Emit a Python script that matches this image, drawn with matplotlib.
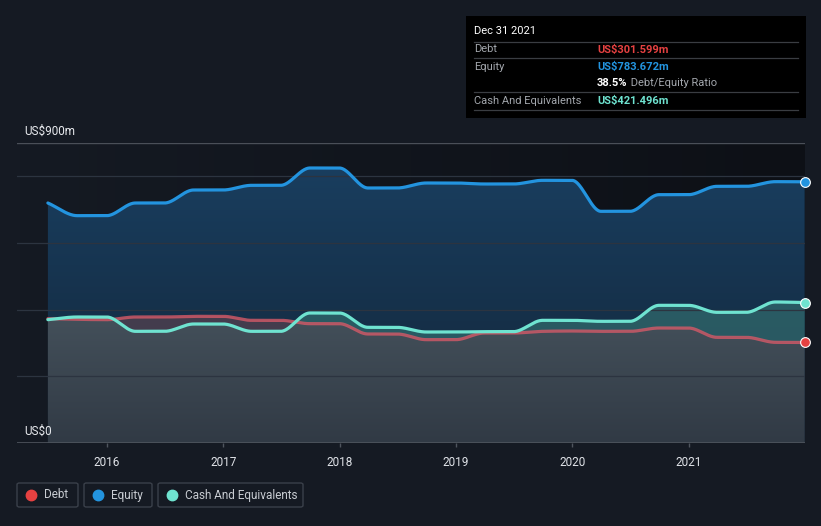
import numpy as np
import pandas as pd
import matplotlib
matplotlib.use('Agg')
import matplotlib.pyplot as plt
from matplotlib.patches import PathPatch, FancyBboxPatch
from matplotlib.colors import LinearSegmentedColormap

plt.rcParams['font.family'] = ['Roboto', 'DejaVu Sans']

# quarterly balance sheet values, US$m
dates = ['2015-06-30', '2015-09-30', '2015-12-31', '2016-03-31', '2016-06-30', '2016-09-30',
         '2016-12-31', '2017-03-31', '2017-06-30', '2017-09-30', '2017-12-31', '2018-03-31',
         '2018-06-30', '2018-09-30', '2018-12-31', '2019-03-31', '2019-06-30', '2019-09-30',
         '2019-12-31', '2020-03-31', '2020-06-30', '2020-09-30', '2020-12-31', '2021-03-31',
         '2021-06-30', '2021-09-30', '2021-12-31']
equity = [720, 682, 682, 720, 720, 759, 759, 773, 773, 825, 825, 765, 765, 780, 780, 777, 777,
          788, 788, 695, 695, 745, 745, 770, 770, 784, 783.672]
debt = [373, 371, 370, 378, 378, 380, 380, 368, 368, 358, 358, 327, 327, 310, 310, 330, 330,
        335, 336, 335, 335, 345, 345, 317, 317, 302, 301.599]
cash = [370, 378, 378, 335, 335, 357, 357, 335, 335, 390, 390, 347, 347, 333, 333, 334, 334,
        368, 368, 365, 365, 413, 413, 392, 392, 423, 421.496]
years = [2016, 2017, 2018, 2019, 2020, 2021]

BG = '#151a23'
C_DEBT = '#e64141'
C_EQ = '#2394df'
C_CASH = '#6fe3d0'


def decyear(s):
    d = pd.Timestamp(s)
    start = pd.Timestamp(year=d.year, month=1, day=1)
    end = pd.Timestamp(year=d.year + 1, month=1, day=1)
    return d.year + (d - start) / (end - start)


def monotone(x, y, xs):
    # Fritsch-Carlson monotone cubic
    x = np.asarray(x, float)
    y = np.asarray(y, float)
    h = np.diff(x)
    d = np.diff(y) / h
    m = np.zeros_like(y)
    m[0], m[-1] = d[0], d[-1]
    for i in range(1, len(y) - 1):
        if d[i - 1] * d[i] <= 0:
            m[i] = 0
        else:
            w1 = 2 * h[i] + h[i - 1]
            w2 = h[i] + 2 * h[i - 1]
            m[i] = (w1 + w2) / (w1 / d[i - 1] + w2 / d[i])
    idx = np.clip(np.searchsorted(x, xs) - 1, 0, len(x) - 2)
    t = (xs - x[idx]) / h[idx]
    h00 = 2 * t**3 - 3 * t**2 + 1
    h10 = t**3 - 2 * t**2 + t
    h01 = -2 * t**3 + 3 * t**2
    h11 = t**3 - t**2
    return h00 * y[idx] + h10 * h[idx] * m[idx] + h01 * y[idx + 1] + h11 * h[idx] * m[idx + 1]


xq = np.array([decyear(s) for s in dates])
xs = np.linspace(xq[0], xq[-1], 1500)
eq_s = monotone(xq, equity, xs)
de_s = monotone(xq, debt, xs)
ca_s = monotone(xq, cash, xs)

fig = plt.figure(figsize=(8.21, 5.26), dpi=100)
fig.patch.set_facecolor(BG)
W, H = 821, 526
x0, x1 = 2016 - 89.9 / 116.4, 2022.0
ax = fig.add_axes([17 / W, (H - 443) / H, 788 / W, 300 / H])
ax.set_xlim(x0, x1)
ax.set_ylim(0, 900)
ax.set_facecolor(BG)
for s in ax.spines.values():
    s.set_visible(False)

# background darkening to the right
bgmap = LinearSegmentedColormap.from_list('bg', [BG, '#0d1016'])
ax.imshow(np.linspace(0, 1, 256).reshape(1, -1), extent=[x0, x1, 0, 900], aspect='auto',
          cmap=bgmap, zorder=0, origin='lower')


def grad_fill(lower, upper, c_bottom, c_top, z, where=None):
    poly = ax.fill_between(xs, lower, upper, where=where, color='none', lw=0, interpolate=True)
    cmap = LinearSegmentedColormap.from_list('g', [c_bottom, c_top])
    im = ax.imshow(np.linspace(0, 1, 256).reshape(-1, 1), extent=[x0, x1, 0, 900], aspect='auto',
                   cmap=cmap, origin='lower', zorder=z)
    paths = poly.get_paths()
    if len(paths) == 0:
        im.remove()
        return
    verts = np.concatenate([p.vertices for p in paths])
    codes = np.concatenate([p.codes if p.codes is not None else
                            np.r_[1, np.full(len(p.vertices) - 1, 2)] for p in paths])
    from matplotlib.path import Path
    patch = PathPatch(Path(verts, codes), transform=ax.transData, facecolor='none', edgecolor='none')
    ax.add_patch(patch)
    im.set_clip_path(patch)


lowest = np.minimum(de_s, ca_s)
grad_fill(0, eq_s, '#122538', '#1a4062', 1)
grad_fill(de_s, ca_s, '#28555e', '#2b626a', 2, where=ca_s >= de_s)
grad_fill(ca_s, de_s, '#3f3a4a', '#4a4152', 2, where=de_s >= ca_s)
grad_fill(0, lowest, '#313a45', '#5d6e77', 3)

# grid
for v in [200, 400, 600, 800]:
    ax.axhline(v, color='#2c3440', lw=0.9, zorder=4)
ax.axhline(900, color='#4a4f58', lw=1, zorder=4)
ax.axhline(0, color='#4f555e', lw=1.2, zorder=4)

ax.plot(xs, eq_s, color=C_EQ, lw=2.3, zorder=6, solid_capstyle='round')
ax.plot(xs, de_s, color='#d65a68', lw=2.3, alpha=0.8, zorder=5, solid_capstyle='round')
ax.plot(xs, ca_s, color=C_CASH, lw=2.3, zorder=7, solid_capstyle='round')
for vals, c in [(equity, C_EQ), (debt, C_DEBT), (cash, C_CASH)]:
    ax.plot(xq[-1], vals[-1], 'o', ms=7, color=c, mec='white', mew=0.8, zorder=9, clip_on=False)

ax.set_yticks([])
ax.set_xticks(years)
ax.set_xticklabels([str(y) for y in years])
ax.tick_params(axis='x', colors='#4f555e', length=3, width=1, pad=6, labelcolor='#e0e3e8',
               labelsize=8.5)

fig.text(24 / W, 1 - 131 / H, 'US$900m', color='#e8eaee', fontsize=8.5, va='center')
fig.text(24 / W, 1 - 431 / H, 'US$0', color='#e8eaee', fontsize=8.5, va='center')

# tooltip box
tip = fig.add_axes([466 / W, 1 - 118 / H, 340 / W, 102 / H])
tip.set_xlim(466, 806)
tip.set_ylim(118, 16)
tip.set_facecolor('#000000')
tip.set_xticks([])
tip.set_yticks([])
for s in tip.spines.values():
    s.set_visible(False)
for yy in [41.5, 58.3, 92.3, 109.5]:
    tip.plot([474, 798], [yy, yy], color='#3a3d42', lw=0.9)
tip.text(474, 31, 'Dec 31 2021', color='white', fontsize=8, va='center')
lab = '#a3a7ad'
tip.text(474, 49.5, 'Debt', color=lab, fontsize=8, va='center')
tip.text(597, 49.5, 'US$301.599m', color=C_DEBT, fontsize=8, va='center', fontweight='bold')
tip.text(474, 66.5, 'Equity', color=lab, fontsize=8, va='center')
tip.text(597, 66.5, 'US$783.672m', color=C_EQ, fontsize=8, va='center', fontweight='bold')
t = tip.text(597, 83.5, '38.5%', color='white', fontsize=8, va='center', fontweight='bold')
tip.annotate(' Debt/Equity Ratio', xycoords=t, xy=(1, 0.5), va='center', color=lab, fontsize=8)
tip.text(474, 100.5, 'Cash And Equivalents', color=lab, fontsize=8, va='center')
tip.text(597, 100.5, 'US$421.496m', color=C_CASH, fontsize=8, va='center', fontweight='bold')

# legend boxes
items = [('Debt', C_DEBT, 17, 78), ('Equity', C_EQ, 84, 152), ('Cash And Equivalents', C_CASH, 158, 303)]
for name, c, xa, xb in items:
    box = FancyBboxPatch((xa / W, 1 - 507 / H), (xb - xa) / W, 24 / H,
                         boxstyle='round,pad=0,rounding_size=0.003', transform=fig.transFigure,
                         facecolor='none', edgecolor='#3a404a', lw=1)
    fig.add_artist(box)
    fig.add_artist(plt.Line2D([(xa + 14) / W], [1 - 495 / H], marker='o', ms=7.5, color=c,
                              transform=fig.transFigure, lw=0))
    fig.text((xa + 27) / W, 1 - 495 / H, name, color='#c8ccd2', fontsize=8.5, va='center')

fig.savefig('out.png', dpi=100, facecolor=BG)
